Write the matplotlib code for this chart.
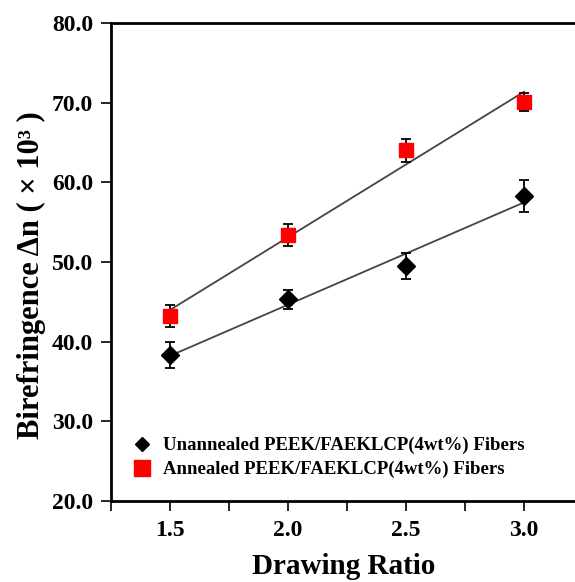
import numpy as np
import matplotlib
matplotlib.use("Agg")
import matplotlib.pyplot as plt
from matplotlib.lines import Line2D
from matplotlib.ticker import FixedLocator

plt.rcParams['font.family'] = ['Liberation Serif', 'DejaVu Serif']

drawing_ratio = [1.5, 2.0, 2.5, 3.0]
unannealed = [38.3, 45.3, 49.5, 58.3]
unannealed_err = [1.6, 1.2, 1.6, 2.0]
annealed = [43.2, 53.4, 64.0, 70.1]
annealed_err = [1.4, 1.4, 1.4, 1.1]
x_ticks = [1.5, 2.0, 2.5, 3.0]
y_ticks = [20, 30, 40, 50, 60, 70, 80]
labels = ["Unannealed PEEK/FAEKLCP(4wt%) Fibers",
          "Annealed PEEK/FAEKLCP(4wt%) Fibers"]

fig = plt.figure(figsize=(5.75, 5.82), dpi=100)
W, H = 575, 582
x0, x1 = 111, 583
y0, y1 = 501, 23
ax = fig.add_axes([x0 / W, (H - y0) / H, (x1 - x0) / W, (y0 - y1) / H])

x = np.array(drawing_ratio)
for yv in (unannealed, annealed):
    p = np.polyfit(x, yv, 1)
    xs = np.array([1.5, 3.0])
    ax.plot(xs, np.polyval(p, xs), color='#444444', lw=1.3, zorder=2)

ax.errorbar(x, unannealed, yerr=unannealed_err, fmt='D', color='black',
            ms=9, capsize=3.3, elinewidth=1.3, capthick=1.3, zorder=4)
ax.errorbar(x, annealed, yerr=annealed_err, fmt='s', mfc='#ff0000', mec='#ff0000',
            ecolor='black', ms=10, capsize=3.3, elinewidth=1.3, capthick=1.3, zorder=3)

ax.set_xlim(1.25, 3.25)
ax.set_ylim(20, 80)
ax.xaxis.set_major_locator(FixedLocator(x_ticks))
ax.xaxis.set_minor_locator(FixedLocator([1.25, 1.75, 2.25, 2.75]))
ax.yaxis.set_major_locator(FixedLocator(y_ticks))
ax.set_xticklabels([f"{v:.1f}" for v in x_ticks])
ax.set_yticklabels([f"{v:.1f}" for v in y_ticks])
ax.tick_params(axis='both', which='both', direction='out', width=1.2,
               labelsize=17)
ax.tick_params(axis='x', which='major', length=7, pad=7)
ax.tick_params(axis='x', which='minor', length=7)
ax.tick_params(axis='y', which='major', length=7, pad=6)
for lab in ax.get_xticklabels() + ax.get_yticklabels():
    lab.set_fontweight('bold')
for s in ['left', 'bottom', 'top']:
    ax.spines[s].set_linewidth(2)
ax.spines['right'].set_visible(False)

fig.text(31 / W, 1 - 275 / H, "Birefringence Δn ( × 10³ )", rotation=90,
         fontsize=22, fontweight='bold', ha='center', va='center')
fig.text(344 / W, 1 - 566 / H, "Drawing Ratio", fontsize=21,
         fontweight='bold', ha='center', va='center')

handles = [Line2D([], [], marker='D', color='black', ls='none', ms=7),
           Line2D([], [], marker='s', color='#ff0000', ls='none', ms=11)]
leg = ax.legend(handles, labels, loc='upper left',
                bbox_to_anchor=((133 - x0) / (x1 - x0), (y0 - 437) / (y0 - y1)),
                frameon=False, handlelength=1.0, handletextpad=0.6,
                labelspacing=0.35, borderaxespad=0, borderpad=0,
                prop={'family': 'Liberation Serif', 'weight': 'bold', 'size': 13.5})

fig.savefig("out.png", dpi=100)
